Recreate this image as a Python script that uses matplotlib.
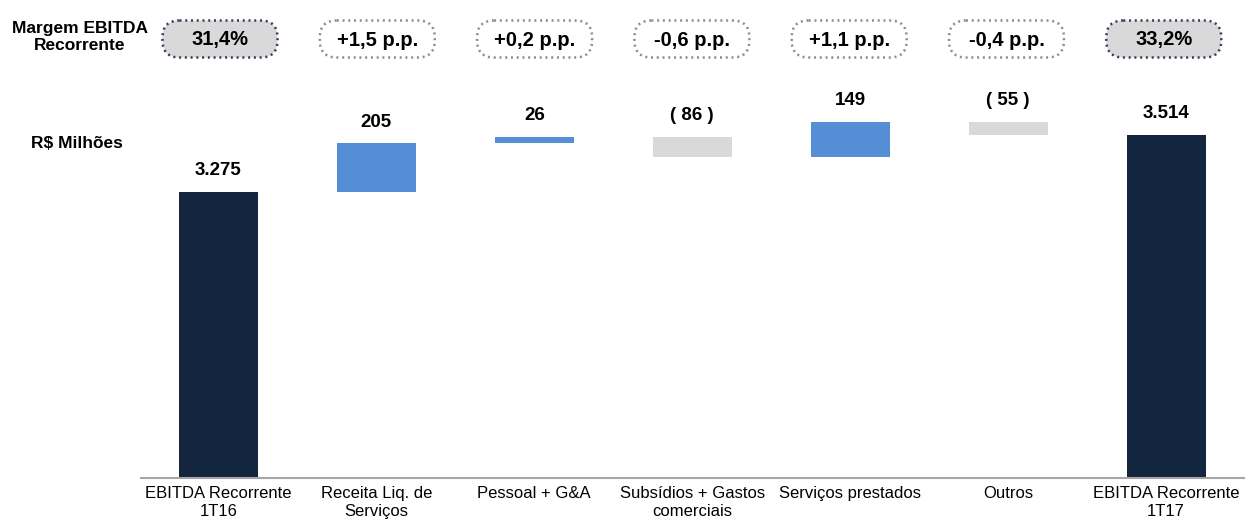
import matplotlib.pyplot as plt
import numpy as np
from matplotlib.patches import FancyBboxPatch

plt.rcParams['font.family'] = ['Liberation Sans Narrow', 'Liberation Sans', 'DejaVu Sans']

# Dados (R$ milhões)
categorias = ['EBITDA Recorrente\n1T16', 'Receita Liq. de\nServiços', 'Pessoal + G&A',
              'Subsídios + Gastos\ncomerciais', 'Serviços prestados', 'Outros',
              'EBITDA Recorrente\n1T17']
valores = [3275, 205, 26, -86, 149, -55, 3514]
rotulos = ['3.275', '205', '26', '( 86 )', '149', '( 55 )', '3.514']
margens = ['31,4%', '+1,5 p.p.', '+0,2 p.p.', '-0,6 p.p.', '+1,1 p.p.', '-0,4 p.p.', '33,2%']

navy = '#13253f'
azul = '#558ed5'
cinza = '#d9d9d9'
bold_font = ['Liberation Sans', 'DejaVu Sans']

fig = plt.figure(figsize=(12.45, 5.22), dpi=100)
ax = fig.add_axes([141 / 1245, 44 / 522, 1 - 141 / 1245, 1 - 44 / 522])

y_min = 2075
x = np.arange(len(categorias))
acum = 0
for i, v in enumerate(valores):
    if i == 0 or i == len(valores) - 1:
        base, altura, cor = y_min, v - y_min, navy
        topo = v
        acum = v
    else:
        if v >= 0:
            base, altura, cor = acum, v, azul
            topo = acum + v
        else:
            base, altura, cor = acum + v, -v, cinza
            topo = acum
        acum += v
    ax.bar(x[i], altura, 0.5, bottom=base, color=cor)
    ax.annotate(rotulos[i], (x[i], topo), xytext=(0, 9), textcoords='offset points',
                ha='center', va='bottom', fontsize=13.5, fontweight='bold',
                family=bold_font)

ax.set_xlim(-0.49, 6.5)
ax.set_ylim(y_min, 4080)
ax.set_yticks([])
ax.set_xticks(x)
ax.set_xticklabels(categorias, fontsize=12, linespacing=1.2)
ax.tick_params(axis='x', length=0, pad=6)
for s in ['top', 'right', 'left']:
    ax.spines[s].set_visible(False)
ax.spines['bottom'].set_color('#a6a6a6')
ax.spines['bottom'].set_linewidth(1.5)

# camada em pixels para as caixas de margem
ov = fig.add_axes([0, 0, 1, 1], zorder=3)
ov.set_xlim(0, 1245)
ov.set_ylim(522, 0)
ov.axis('off')

for i, m in enumerate(margens):
    destaque = i == 0 or i == len(margens) - 1
    xc = 220 + i * 157.3
    yc = 39
    w, h = 115, 37
    caixa = FancyBboxPatch((xc - w / 2, yc - h / 2), w, h,
                           boxstyle='round,pad=0,rounding_size=17',
                           fc=cinza if destaque else 'white',
                           ec='#2e3f58' if destaque else '#8c8c8c',
                           lw=1.8, ls=(0, (0.8, 1.5)))
    ov.add_patch(caixa)
    ov.text(xc, yc + 1, m, ha='center', va='center', fontsize=14.5,
            fontweight='bold', family=['Liberation Sans Narrow'] + bold_font)

fig.text(80 / 1245, 1 - 37 / 522, 'Margem EBITDA\nRecorrente', ha='center', va='center',
         fontsize=12.5, fontweight='bold', linespacing=1.1,
         family=['Liberation Sans Narrow'] + bold_font)
fig.text(31 / 1245, 1 - 143 / 522, 'R$ Milhões', ha='left', va='center',
         fontsize=12.5, fontweight='bold', family=bold_font)

fig.savefig('out.png', dpi=100)
